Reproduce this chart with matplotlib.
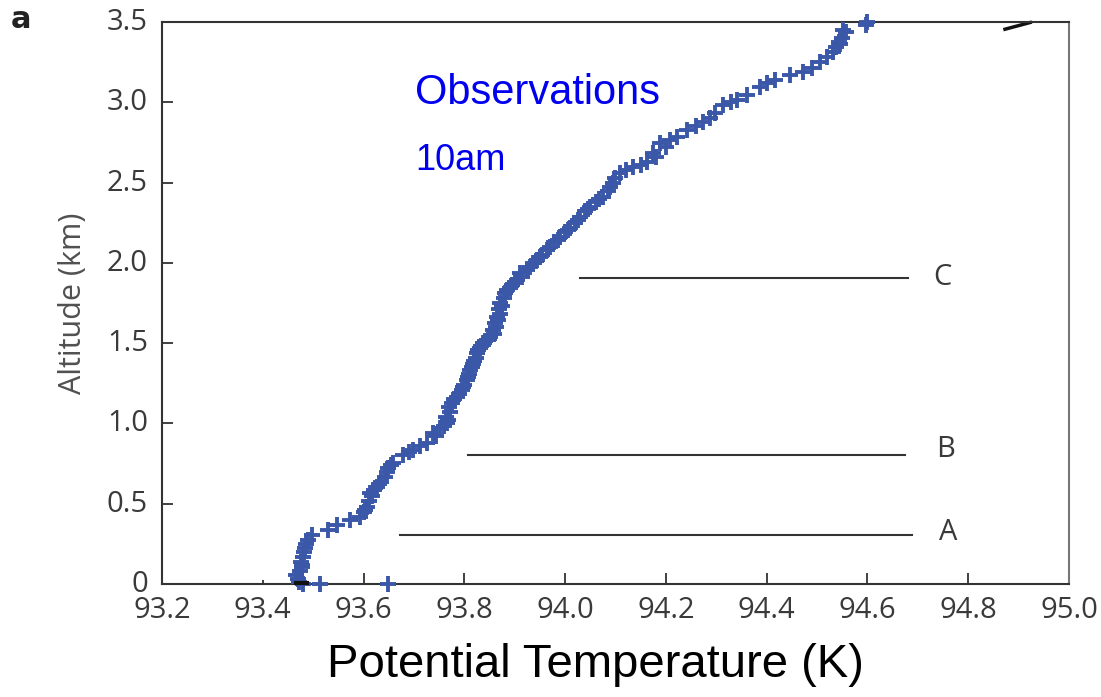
import matplotlib
matplotlib.use("Agg")
import matplotlib.pyplot as plt
from matplotlib.transforms import ScaledTranslation

# Observed potential temperature profile (K) vs altitude (km)
theta = [93.480, 93.514, 93.649, 93.470, 93.466, 93.474, 93.478, 93.476, 93.480, 93.482,
         93.484, 93.490, 93.498, 93.529, 93.547, 93.573, 93.593, 93.600, 93.607, 93.610,
         93.613, 93.620, 93.627, 93.635, 93.643, 93.646, 93.649, 93.658, 93.678, 93.698,
         93.712, 93.726, 93.738, 93.752, 93.766, 93.768, 93.772, 93.776, 93.786, 93.795,
         93.800, 93.805, 93.810, 93.815, 93.820, 93.825, 93.831, 93.837, 93.851, 93.856,
         93.861, 93.865, 93.868, 93.871, 93.881, 93.885, 93.895, 93.905, 93.910, 93.924,
         93.936, 93.944, 93.954, 93.964, 93.977, 93.990, 94.000, 94.010, 94.020, 94.030,
         94.040, 94.049, 94.062, 94.075, 94.085, 94.095, 94.109, 94.120, 94.135, 94.163,
         94.174, 94.188, 94.208, 94.222, 94.242, 94.274, 94.288, 94.298, 94.313, 94.341,
         94.361, 94.387, 94.417, 94.446, 94.472, 94.490, 94.506, 94.531, 94.537, 94.543,
         94.549, 94.557, 94.552, 94.597, 94.599,
         # extra readings in the dense middle part
         93.472, 93.478, 93.486, 93.603, 93.616, 93.631, 93.654, 93.690, 93.744, 93.760,
         93.764, 93.770, 93.780, 93.790, 93.798, 93.808, 93.812, 93.818, 93.823, 93.828,
         93.834, 93.842, 93.848, 93.858, 93.863, 93.866, 93.870, 93.875, 93.878, 93.890,
         93.900, 93.915, 93.930, 93.950, 93.970, 93.985, 94.005, 94.025, 94.045, 94.068,
         94.090, 94.100, 94.150, 94.180, 94.200, 94.260, 94.330, 94.400, 94.520, 94.545]
altitude = [0.000, 0.000, 0.000, 0.030, 0.056, 0.080, 0.106, 0.140, 0.168, 0.200,
            0.224, 0.274, 0.305, 0.336, 0.367, 0.399, 0.417, 0.450, 0.480, 0.520,
            0.567, 0.585, 0.604, 0.635, 0.666, 0.695, 0.722, 0.754, 0.803, 0.835,
            0.860, 0.878, 0.940, 0.970, 1.003, 1.021, 1.070, 1.127, 1.165, 1.208,
            1.240, 1.270, 1.310, 1.351, 1.390, 1.439, 1.470, 1.501, 1.538, 1.580,
            1.625, 1.663, 1.710, 1.750, 1.812, 1.831, 1.860, 1.893, 1.937, 1.956,
            1.999, 2.018, 2.050, 2.080, 2.130, 2.161, 2.190, 2.217, 2.250, 2.286,
            2.320, 2.348, 2.380, 2.410, 2.450, 2.497, 2.560, 2.580, 2.597, 2.628,
            2.684, 2.746, 2.765, 2.784, 2.827, 2.877, 2.900, 2.933, 2.983, 3.014,
            3.045, 3.095, 3.139, 3.170, 3.189, 3.214, 3.251, 3.313, 3.345, 3.375,
            3.400, 3.438, 3.450, 3.481, 3.500,
            0.015, 0.120, 0.250, 0.460, 0.545, 0.620, 0.740, 0.820, 0.920, 0.985,
            1.040, 1.100, 1.150, 1.185, 1.225, 1.290, 1.330, 1.370, 1.410, 1.455,
            1.485, 1.515, 1.525, 1.560, 1.600, 1.645, 1.680, 1.730, 1.780, 1.845,
            1.880, 1.915, 1.975, 2.035, 2.100, 2.145, 2.205, 2.270, 2.335, 2.395,
            2.470, 2.530, 2.610, 2.660, 2.720, 2.850, 3.000, 3.120, 3.280, 3.360]

# Reference levels A, B, C
level_names = ["A", "B", "C"]
level_alt = [0.305, 0.803, 1.906]
level_start = [93.672, 93.807, 94.030]
level_end = [94.688, 94.675, 94.680]
label_x = [94.760, 94.756, 94.749]
label_y = [0.32, 0.835, 1.906]

# fragment of another curve at top right
frag_x = [94.873, 94.923]
frag_y = [3.455, 3.497]

xticks = [93.2, 93.4, 93.6, 93.8, 94.0, 94.2, 94.4, 94.6, 94.8, 95.0]
xticklabels = ["93.2", "93.4", "93.6", "93.8", "94.0", "94.2", "94.4", "94.6", "94.8", "95.0"]
yticks = [0, 0.5, 1.0, 1.5, 2.0, 2.5, 3.0, 3.5]
yticklabels = ["0", "0.5", "1.0", "1.5", "2.0", "2.5", "3.0", "3.5"]

tickfont = "Open Sans"
tickcol = "#3a3a3a"

fig = plt.figure(figsize=(11.01, 6.97), dpi=100)
ax = fig.add_axes([162/1101, 113/697, (1069-162)/1101, (584-22)/697])

ax.plot(theta, altitude, linestyle="none", marker="+", markersize=11,
        markeredgewidth=2.8, color="#3b57a8", clip_on=False, zorder=3)
ax.plot([93.465, 93.487], [0.004, 0.004], color="#111111", lw=3, clip_on=False, zorder=4)

for name, z, x0, x1, lx, ly in zip(level_names, level_alt, level_start, level_end,
                                   label_x, label_y):
    ax.plot([x0, x1], [z, z], color="#333333", lw=1.5)
    ax.text(lx, ly, name, fontsize=21, family=tickfont, color=tickcol,
            ha="center", va="center")

ax.plot(frag_x, frag_y, color="#111111", lw=2.5, clip_on=False)

ax.set_xlim(93.2, 95.0)
ax.set_ylim(0, 3.5)
ax.set_xticks(xticks)
ax.set_xticklabels(xticklabels)
ax.set_yticks(yticks)
ax.set_yticklabels(yticklabels)
ax.tick_params(direction="in", length=8, width=1.3, color="#333333",
               labelsize=21, labelcolor=tickcol)
ax.tick_params(axis="x", pad=9)
ax.tick_params(axis="y", pad=10)
ax.xaxis.get_major_ticks()[1].tick1line.set_markersize(3)
shift = ScaledTranslation(0, 3/100, fig.dpi_scale_trans)
for lab in ax.get_yticklabels():
    lab.set_family(tickfont)
    lab.set_transform(lab.get_transform() + shift)
for lab in ax.get_xticklabels():
    lab.set_family(tickfont)
for s in ax.spines.values():
    s.set_color("#333333")
    s.set_linewidth(1.5)
ax.spines["right"].set_color("#777777")

ax.set_ylabel("Altitude (km)", fontsize=22, family=tickfont, color="#505050", labelpad=14)

fig.text(415/1101, 1 - 93/697, "Observations", fontsize=30, family="Liberation Sans",
         color="#0000ee", ha="left", va="center")
fig.text(415/1101, 1 - 160/697, "10am", fontsize=26, family="Liberation Sans",
         color="#0000ee", ha="left", va="center")
fig.text(595/1101, 1 - 665/697, "Potential Temperature (K)", fontsize=34,
         family="Liberation Sans", color="black", ha="center", va="center")
fig.text(11/1101, 1 - 19/697, "a", fontsize=22, family="DejaVu Sans", weight="bold",
         color="#222222", ha="left", va="center")

fig.savefig("out.png", dpi=100)
